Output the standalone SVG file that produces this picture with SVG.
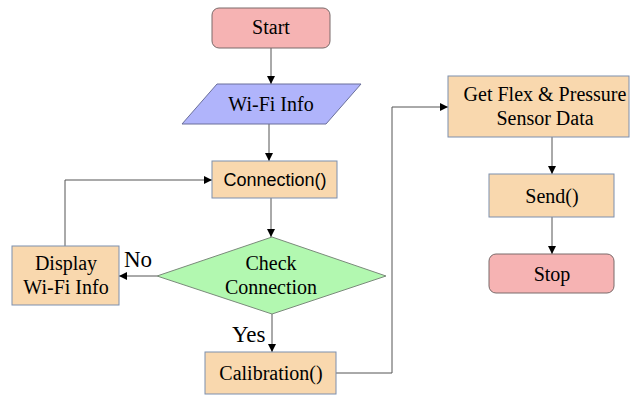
<svg xmlns="http://www.w3.org/2000/svg" width="630" height="396" viewBox="0 0 630 396">
<style>
.t{font-family:"Liberation Serif","Times New Roman",serif;font-size:20px;fill:#000;text-anchor:middle}
.s{font-family:"Liberation Sans",Arial,sans-serif;font-size:18px;fill:#000;text-anchor:middle}
.lbl{font-family:"Liberation Serif","Times New Roman",serif;font-size:23px;fill:#000}
.term{fill:#f6b3b3;stroke:#7a6a6a;stroke-width:1}
.proc{fill:#f9d8ae;stroke:#7d8fae;stroke-width:1}
.io{fill:#b0b4fb;stroke:#6a6f9a;stroke-width:1}
.dec{fill:#b2f8b0;stroke:#7a8a7a;stroke-width:1}
.c{fill:none;stroke:#555;stroke-width:1}
</style>
<defs>
<marker id="a" markerWidth="10" markerHeight="10" refX="9" refY="5" orient="auto" markerUnits="userSpaceOnUse">
<path d="M1,1 L9,5 L1,9 Z" fill="#000"/>
</marker>
</defs>
<rect width="630" height="396" fill="#fff"/>
<g id="connectors">
<path class="c" d="M271,48 V84" marker-end="url(#a)"/>
<path class="c" d="M269,124 V161" marker-end="url(#a)"/>
<path class="c" d="M271,198 V237" marker-end="url(#a)"/>
<path class="c" d="M157,276 H119" marker-end="url(#a)"/>
<path class="c" d="M65,246 V180 H212" marker-end="url(#a)"/>
<path class="c" d="M272,314 V352" marker-end="url(#a)"/>
<path class="c" d="M336,373 H392 V107 H448" marker-end="url(#a)"/>
<path class="c" d="M552,137 V174" marker-end="url(#a)"/>
<path class="c" d="M552,217 V254" marker-end="url(#a)"/>
<text class="lbl" x="124" y="267">No</text>
<text class="lbl" x="232" y="342">Yes</text>
</g>
<g id="start">
<rect class="term" x="212" y="8" width="118" height="40" rx="7"/>
<text class="t" x="271" y="34">Start</text>
</g>
<g id="wifi">
<path class="io" d="M217,84 H361 L326,124 H182 Z"/>
<text class="t" x="271" y="111">Wi-Fi Info</text>
</g>
<g id="connection">
<rect class="proc" x="212" y="161" width="125" height="37"/>
<text class="s" x="275" y="186">Connection()</text>
</g>
<g id="check">
<path class="dec" d="M272,237 L386,276 L272,314 L157,276 Z"/>
<text class="t" x="271" y="270">Check</text>
<text class="t" x="271" y="294">Connection</text>
</g>
<g id="display">
<rect class="proc" x="12" y="246" width="107" height="59"/>
<text class="t" x="66" y="270">Display</text>
<text class="t" x="66" y="294">Wi-Fi Info</text>
</g>
<g id="calibration">
<rect class="proc" x="205" y="352" width="131" height="42"/>
<text class="t" x="271" y="380">Calibration()</text>
</g>
<g id="getdata">
<rect class="proc" x="448" y="76" width="181" height="61"/>
<text class="t" x="545" y="101">Get Flex &amp; Pressure</text>
<text class="t" x="545" y="125">Sensor Data</text>
</g>
<g id="send">
<rect class="proc" x="489" y="174" width="125" height="43"/>
<text class="t" x="552" y="203">Send()</text>
</g>
<g id="stop">
<rect class="term" x="489" y="254" width="125" height="39" rx="7"/>
<text class="t" x="552" y="281">Stop</text>
</g>
</svg>
